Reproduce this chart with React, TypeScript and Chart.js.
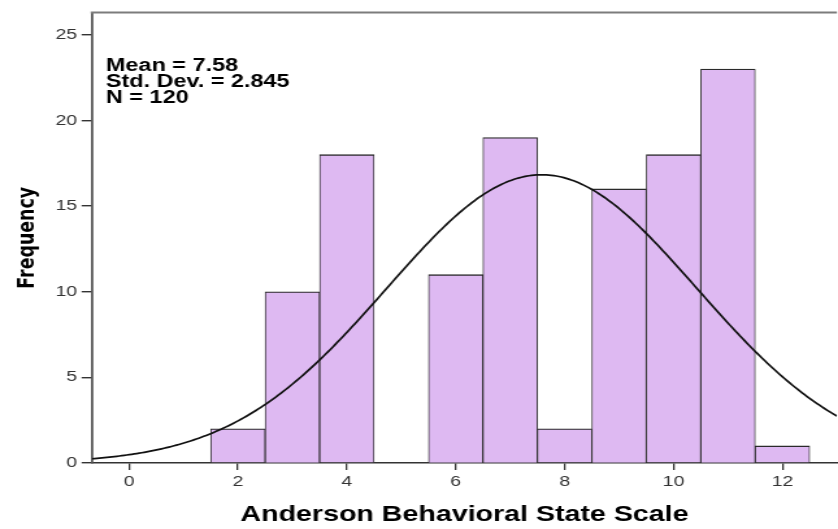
import React, { useEffect, useRef } from "react";
import { Chart, registerables } from "chart.js";

Chart.register(...registerables);

// Histogram bins (bin centres, width 1) and their counts
const BIN_CENTERS = [2, 3, 4, 6, 7, 8, 9, 10, 11, 12];
const FREQUENCIES = [2, 10, 18, 11, 19, 2, 16, 18, 23, 1];
const BIN_WIDTH = 1;

// Axis ticks
const X_TICKS = [0, 2, 4, 6, 8, 10, 12];
const Y_TICKS = [0, 5, 10, 15, 20, 25];

// Summary statistics shown in the corner and used for the normal curve
const MEAN = 7.58;
const STD_DEV = 2.845;
const N = 120;

const X_MIN = -0.68;
const X_MAX = 13.0;
const Y_MAX = 26.3;

const X_TITLE = "Anderson Behavioral State Scale";
const Y_TITLE = "Frequency";
const STATS_LINES = [`Mean = ${MEAN}`, `Std. Dev. = ${STD_DEV}`, `N = ${N}`];

// The SPSS output is rendered on a narrower canvas and widened horizontally
const OUT_W = 838;
const OUT_H = 529;
const BASE_W = 645;
const STRETCH = OUT_W / BASE_W;

const FONT = "'Liberation Sans', Arial, sans-serif";

// Fitted normal curve, scaled to counts per bin
function normalCurve() {
  const pts: { x: number; y: number }[] = [];
  const k = (N * BIN_WIDTH) / (STD_DEV * Math.sqrt(2 * Math.PI));
  const steps = 300;
  for (let i = 0; i <= steps; i++) {
    const x = X_MIN + ((X_MAX - X_MIN) * i) / steps;
    const z = (x - MEAN) / STD_DEV;
    pts.push({ x, y: k * Math.exp(-0.5 * z * z) });
  }
  return pts;
}

const frameAndStats = {
  id: "frameAndStats",
  afterDraw(chart: any) {
    const { ctx, chartArea } = chart;
    ctx.save();
    // top frame line
    ctx.strokeStyle = "#7c7c7c";
    ctx.lineWidth = 2;
    ctx.beginPath();
    ctx.moveTo(chartArea.left - 1, chartArea.top);
    ctx.lineTo(chartArea.right, chartArea.top);
    ctx.stroke();
    // statistics box
    ctx.fillStyle = "#000";
    ctx.font = `bold 18px ${FONT}`;
    ctx.textAlign = "left";
    ctx.textBaseline = "alphabetic";
    const x = chartArea.left + 10.8;
    const baselines = [70.5, 86.5, 102.5];
    STATS_LINES.forEach((t, i) => ctx.fillText(t, x, baselines[i]));
    ctx.restore();
  },
};

export default function App() {
  const canvasRef = useRef<HTMLCanvasElement | null>(null);

  useEffect(() => {
    if (!canvasRef.current) return;
    const chart = new Chart(canvasRef.current, {
      type: "bar",
      data: {
        datasets: [
          {
            type: "line",
            label: "Normal",
            data: normalCurve(),
            borderColor: "#111",
            borderWidth: 1.7,
            pointRadius: 0,
            tension: 0,
            fill: false,
            order: 0,
          } as any,
          {
            type: "bar",
            label: "Frequency",
            data: BIN_CENTERS.map((x, i) => ({ x, y: FREQUENCIES[i] })),
            backgroundColor: "#DEB9F2",
            borderColor: "#2a2a2a",
            borderWidth: { top: 1.4, left: 0.9, right: 0.9, bottom: 0 },
            borderSkipped: false,
            barPercentage: 1,
            categoryPercentage: 1,
            order: 1,
          } as any,
        ],
      },
      options: {
        animation: false,
        responsive: true,
        maintainAspectRatio: false,
        layout: { padding: { top: 5, left: 0, right: 0, bottom: 0 } },
        plugins: {
          legend: { display: false },
          tooltip: { enabled: false },
        },
        scales: {
          x: {
            type: "linear",
            min: X_MIN,
            max: X_MAX,
            offset: false,
            afterBuildTicks: (s: any) => {
              s.ticks = X_TICKS.map((v) => ({ value: v }));
            },
            afterFit: (s: any) => {
              s.height = 66;
            },
            ticks: {
              color: "#333",
              font: { family: FONT, size: 15 },
              padding: 3,
              maxRotation: 0,
              autoSkip: false,
            },
            grid: {
              display: true,
              offset: false,
              drawOnChartArea: false,
              drawTicks: true,
              tickLength: 7,
              color: "#333",
              lineWidth: 1.3,
            },
            border: { display: true, color: "#333", width: 1.6 },
            title: {
              display: true,
              text: X_TITLE,
              color: "#000",
              font: { family: FONT, size: 22, weight: "bold" },
              padding: { top: 0, bottom: 1 },
            },
          },
          y: {
            type: "linear",
            min: 0,
            max: Y_MAX,
            afterBuildTicks: (s: any) => {
              s.ticks = Y_TICKS.map((v) => ({ value: v }));
            },
            afterFit: (s: any) => {
              s.width = 92 / STRETCH;
            },
            ticks: {
              color: "#333",
              font: { family: FONT, size: 15 },
              padding: 3.5,
              autoSkip: false,
            },
            grid: {
              display: true,
              offset: false,
              drawOnChartArea: false,
              drawTicks: true,
              tickLength: 8,
              color: "#333",
              lineWidth: 1.4,
            },
            border: { display: true, color: "#555", width: 1.8 },
            title: {
              display: true,
              text: Y_TITLE,
              color: "#000",
              font: { family: "'DejaVu Sans', sans-serif", size: 17.4, weight: "bold" },
              padding: { top: 11, bottom: 0 },
            },
          },
        },
      },
      plugins: [frameAndStats],
    });
    return () => chart.destroy();
  }, []);

  return (
    <div style={{ position: "fixed", left: 0, top: 0, width: OUT_W, height: OUT_H, overflow: "hidden", background: "#fff" }}>
      <div
        style={{
          position: "absolute",
          left: 0,
          top: 0,
          width: BASE_W,
          height: OUT_H,
          transform: `scaleX(${STRETCH})`,
          transformOrigin: "0 0",
        }}
      >
        <canvas ref={canvasRef} />
      </div>
    </div>
  );
}
